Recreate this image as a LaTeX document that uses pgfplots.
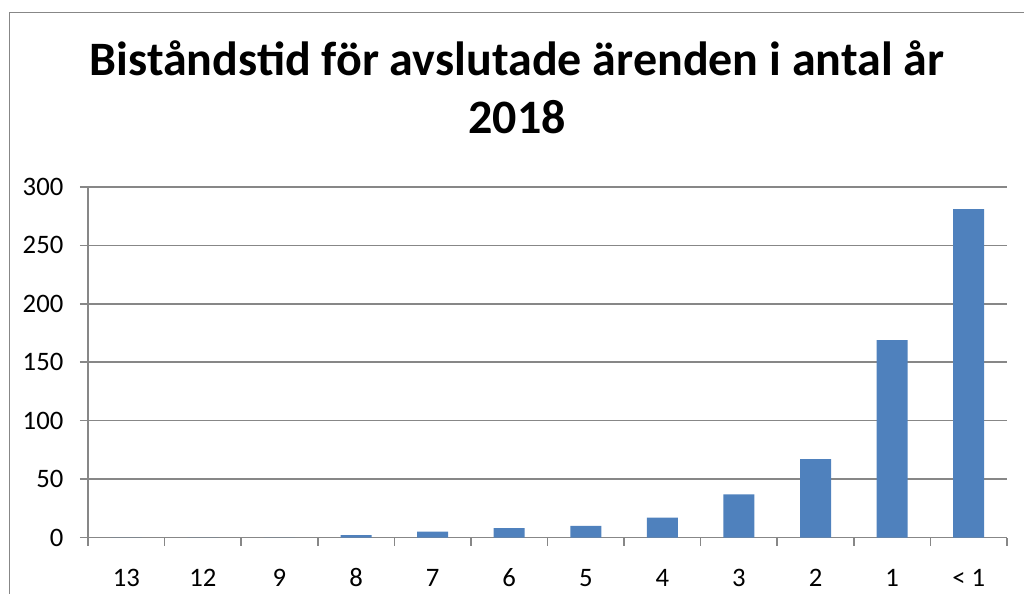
\documentclass[border=0pt]{standalone}
\usepackage{fontspec}
\setmainfont{Carlito}
\usepackage{pgfplots}
\pgfplotsset{compat=1.18}
\definecolor{barblue}{HTML}{4F81BD}
\definecolor{gridgray}{HTML}{878787}
\begin{document}
\begin{tikzpicture}[x=0.75pt,y=0.75pt]
\useasboundingbox (0,0) rectangle (1024,593);
\clip (0,0) rectangle (1024,593);
\draw[gridgray, line width=1.4pt] (9.5,-20) rectangle (1040,580.5);
\node[font=\fontsize{36}{43.5}\selectfont\bfseries, align=center] at (517,506) {Biståndstid för avslutade ärenden i antal år\\2018};
\begin{axis}[
  at={(66pt,41.625pt)}, anchor=south west,
  scale only axis, width=689.25pt, height=262.9pt,
  ymin=0, ymax=300, ytick={0,50,...,300},
  xmin=-0.5, xmax=11.5,
  xtick={0,...,11},
  xticklabels={13,12,9,8,7,6,5,4,3,2,1,< 1},
  minor xtick={-0.5,0.5,...,11.5},
  major x tick style={draw=none},
  tick align=outside,
  major tick length=6pt, minor tick length=6pt,
  ymajorgrids,
  grid style={gridgray, line width=1.2pt},
  axis x line*=bottom, axis y line*=left,
  axis line style={gridgray, line width=1.2pt},
  tick style={gridgray, line width=1.2pt},
  /pgf/number format/assume math mode=true,
  tick label style={font=\fontsize{20}{24}\selectfont, text=black},
  xticklabel style={text height=13pt, text depth=0pt, yshift=-14pt},
  yticklabel style={xshift=-9pt},
  ybar, bar width=23.25pt,
]
\addplot[fill=barblue, draw=none] coordinates {
(0,0) (1,0) (2,0) (3,2) (4,5) (5,8) (6,10) (7,17) (8,37) (9,67) (10,169) (11,281)
};
\end{axis}
\end{tikzpicture}
\end{document}
